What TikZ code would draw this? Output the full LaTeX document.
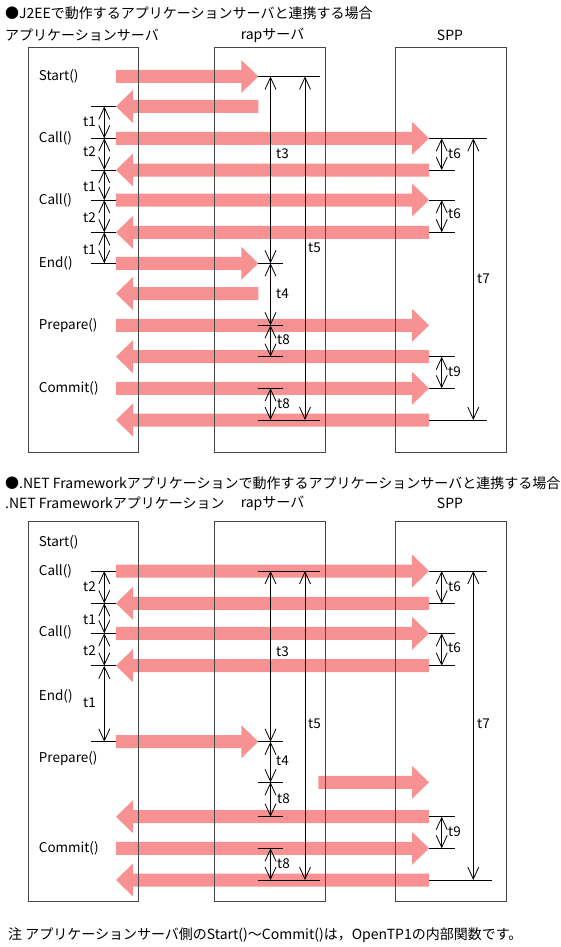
\documentclass[tikz,border=0pt]{standalone}
\usepackage{fontspec}
\setmainfont{Noto Sans CJK JP}
\usetikzlibrary{arrows.meta}
\definecolor{pk}{RGB}{248,145,145}
\definecolor{boxgray}{RGB}{70,70,70}
% right-pointing message: tail x, tip x, y
\newcommand\msgR[3]{\fill[msgfill] (#1,#3-6.5) -- (#2-17,#3-6.5) -- (#2-17,#3-16.5) -- (#2,#3) -- (#2-17,#3+16.5) -- (#2-17,#3+6.5) -- (#1,#3+6.5) -- cycle;}
% left-pointing message: tip x, tail x, y
\newcommand\msgL[3]{\fill[msgfill] (#2,#3-6.5) -- (#1+17,#3-6.5) -- (#1+17,#3-16.5) -- (#1,#3) -- (#1+17,#3+16.5) -- (#1+17,#3+6.5) -- (#2,#3+6.5) -- cycle;}
\begin{document}
\begin{tikzpicture}[x=1pt,y=-1pt,
  font=\fontsize{14}{16}\selectfont,
  box/.style={draw=boxgray, line width=1pt, fill=none, inner sep=0pt},
  dimline/.style={draw=black, line width=0.8pt, {Straight Barb[length=12pt,width=11pt]}-{Straight Barb[length=12pt,width=11pt]}},
  tick/.style={draw=black, line width=0.8pt},
  lbl/.style={inner sep=0pt, anchor=west, font=\fontsize{13.5}{16}\selectfont},
  tl/.style={inner sep=0pt, anchor=east, font=\fontsize{13.5}{16}\selectfont},
  tr/.style={inner sep=0pt, anchor=west, font=\fontsize{13.5}{16}\selectfont},
  msgfill/.style={fill=pk}]
\useasboundingbox[fill=white] (0,0) rectangle (560,947);

% columns
\coordinate (cLT) at (91,0);
\coordinate (cLA) at (116,0);
\coordinate (cLV) at (104.3,0);
\coordinate (cRA) at (258.3,0);
\coordinate (cR3) at (270.5,0);
\coordinate (cR5) at (305,0);
\coordinate (cRT) at (283.3,0);
\coordinate (cRL) at (320,0);
\coordinate (cSA) at (429,0);
\coordinate (cS6) at (441.7,0);
\coordinate (cST) at (455,0);
\coordinate (cS7) at (473.3,0);
\coordinate (cSL) at (486.7,0);
\coordinate (cSM) at (491.7,0);
% rows (top)
\coordinate (a1) at (0,76.5);
\coordinate (a2) at (0,106.5);
\coordinate (a3) at (0,138.3);
\coordinate (a4) at (0,170);
\coordinate (a5) at (0,200);
\coordinate (a6) at (0,232.3);
\coordinate (a7) at (0,263.3);
\coordinate (a8) at (0,293.5);
\coordinate (a9) at (0,325.3);
\coordinate (a10) at (0,356.7);
\coordinate (a11) at (0,388.3);
\coordinate (a12) at (0,420);
% rows (bottom)
\coordinate (b2) at (0,571);
\coordinate (b3) at (0,603.3);
\coordinate (b4) at (0,633.3);
\coordinate (b5) at (0,665.7);
\coordinate (b6) at (0,741.7);
\coordinate (b7) at (0,782.3);
\coordinate (b8) at (0,816.7);
\coordinate (b9) at (0,848.3);
\coordinate (b10) at (0,880);

% ===== top messages =====
\msgR{116}{258.3}{76.5}
\msgL{116}{258.3}{106.5}
\msgR{116}{429}{138.3}
\msgL{116}{429}{170}
\msgR{116}{429}{200}
\msgL{116}{429}{232.3}
\msgR{116}{258.3}{263.3}
\msgL{116}{258.3}{293.5}
\msgR{116}{429}{325.3}
\msgL{116}{429}{356.7}
\msgR{116}{429}{388.3}
\msgL{116}{429}{420}
% ===== bottom messages =====
\msgR{116}{429}{571}
\msgL{116}{429}{603.3}
\msgR{116}{429}{633.3}
\msgL{116}{429}{665.7}
\msgR{116}{258.3}{741.7}
\msgR{318.3}{429}{782.3}
\msgL{116}{429}{816.7}
\msgR{116}{429}{848.3}
\msgL{116}{429}{880}

% ===== boxes =====
\node[box, minimum width=110.7pt, minimum height=404pt] (appA) at (83.35,250) {};
\node[box, minimum width=111pt, minimum height=404pt] (rapA) at (269.5,250) {};
\node[box, minimum width=111pt, minimum height=404pt] (sppA) at (451.2,250) {};
\node[box, minimum width=110.7pt, minimum height=380pt] (appB) at (83.35,711) {};
\node[box, minimum width=111pt, minimum height=380pt] (rapB) at (269.5,711) {};
\node[box, minimum width=111pt, minimum height=380pt] (sppB) at (451.2,711) {};

% ===== headings =====
\node[inner sep=0pt, anchor=west] (h1) at (5,13.3) {●J2EEで動作するアプリケーションサーバと連携する場合};
\node[inner sep=0pt, anchor=west] (c1) at (5,35) {アプリケーションサーバ};
\node[inner sep=0pt] (c2) at (272.5,35) {rapサーバ};
\node[inner sep=0pt] (c3) at (450,35) {SPP};
\node[inner sep=0pt, anchor=west] (h2) at (5,483.3) {●.NET Frameworkアプリケーションで動作するアプリケーションサーバと連携する場合};
\node[inner sep=0pt, anchor=west] (d1) at (5,503.3) {.NET Frameworkアプリケーション};
\node[inner sep=0pt] (d2) at (272.5,503.3) {rapサーバ};
\node[inner sep=0pt] (d3) at (450,503.3) {SPP};
\node[inner sep=0pt, anchor=west] (note) at (8,935) {注 アプリケーションサーバ側のStart()～Commit()は，OpenTP1の内部関数です。};

% ===== function labels =====
\node[lbl] (fA1) at (38.7,76.5) {Start()};
\node[lbl] (fA2) at (38.7,138.3) {Call()};
\node[lbl] (fA3) at (38.7,200) {Call()};
\node[lbl] (fA4) at (38.7,263.3) {End()};
\node[lbl] (fA5) at (38.7,325.3) {Prepare()};
\node[lbl] (fA6) at (38.7,388.3) {Commit()};
\node[lbl] (fB1) at (38.7,542.7) {Start()};
\node[lbl] (fB2) at (38.7,571.7) {Call()};
\node[lbl] (fB3) at (38.7,632.7) {Call()};
\node[lbl] (fB4) at (38.7,696) {End()};
\node[lbl] (fB5) at (38.7,758.3) {Prepare()};
\node[lbl] (fB6) at (38.7,848.3) {Commit()};

% ===== top timing ticks =====
\foreach \r in {a2,a3,a4,a5,a6,a7} {\draw[tick] (cLT|-\r) -- (cLA|-\r);}
\foreach \r in {a1,a12} {\draw[tick] (cRA|-\r) -- (cRL|-\r);}
\foreach \r in {a7,a9,a10,a11} {\draw[tick] (cRA|-\r) -- (cRT|-\r);}
\foreach \r in {a3,a12} {\draw[tick] (cSA|-\r) -- (cSL|-\r);}
\foreach \r in {a4,a5,a6,a10,a11} {\draw[tick] (cSA|-\r) -- (cST|-\r);}
% top dimension lines
\draw[dimline] (cLV|-a2) -- (cLV|-a3);
\draw[dimline] (cLV|-a3) -- (cLV|-a4);
\draw[dimline] (cLV|-a4) -- (cLV|-a5);
\draw[dimline] (cLV|-a5) -- (cLV|-a6);
\draw[dimline] (cLV|-a6) -- (cLV|-a7);
\draw[dimline] (cR3|-a1) -- (cR3|-a7);
\draw[dimline] (cR5|-a1) -- (cR5|-a12);
\draw[dimline] (cR3|-a7) -- (cR3|-a9);
\draw[dimline] (cR3|-a9) -- (cR3|-a10);
\draw[dimline] (cR3|-a11) -- (cR3|-a12);
\draw[dimline] (cS6|-a3) -- (cS6|-a4);
\draw[dimline] (cS6|-a5) -- (cS6|-a6);
\draw[dimline] (cS6|-a10) -- (cS6|-a11);
\draw[dimline] (cS7|-a3) -- (cS7|-a12);
% top timing labels
\node[tl] (ta1) at (96,121.7) {t1};
\node[tl] (ta2) at (96,151.7) {t2};
\node[tl] (ta3) at (96,186.7) {t1};
\node[tl] (ta4) at (96,217.3) {t2};
\node[tl] (ta5) at (96,250) {t1};
\node[tr] (ta6) at (276,153.3) {t3};
\node[tr] (ta7) at (308,247.3) {t5};
\node[tr] (ta8) at (276,293.3) {t4};
\node[tr] (ta9) at (277,340) {t8};
\node[tr] (ta10) at (277,403.3) {t8};
\node[tr] (ta11) at (448,153.3) {t6};
\node[tr] (ta12) at (448,214) {t6};
\node[tr] (ta13) at (448,371.7) {t9};
\node[tr] (ta14) at (477,278.3) {t7};

% ===== bottom timing ticks =====
\foreach \r in {b2,b3,b4,b5,b6} {\draw[tick] (cLT|-\r) -- (cLA|-\r);}
\foreach \r in {b2,b10} {\draw[tick] (cRA|-\r) -- (cRL|-\r);}
\foreach \r in {b6,b7,b8,b9} {\draw[tick] (cRA|-\r) -- (cRT|-\r);}
\draw[tick] (cSA|-b2) -- (cSL|-b2);
\draw[tick] (cSA|-b10) -- (cSM|-b10);
\foreach \r in {b3,b4,b5,b8,b9} {\draw[tick] (cSA|-\r) -- (cST|-\r);}
% bottom dimension lines
\draw[dimline] (cLV|-b2) -- (cLV|-b3);
\draw[dimline] (cLV|-b3) -- (cLV|-b4);
\draw[dimline] (cLV|-b4) -- (cLV|-b5);
\draw[dimline] (cLV|-b5) -- (cLV|-b6);
\draw[dimline] (cR3|-b2) -- (cR3|-b6);
\draw[dimline] (cR5|-b2) -- (cR5|-b10);
\draw[dimline] (cR3|-b6) -- (cR3|-b7);
\draw[dimline] (cR3|-b7) -- (cR3|-b8);
\draw[dimline] (cR3|-b9) -- (cR3|-b10);
\draw[dimline] (cS6|-b2) -- (cS6|-b3);
\draw[dimline] (cS6|-b4) -- (cS6|-b5);
\draw[dimline] (cS6|-b8) -- (cS6|-b9);
\draw[dimline] (cS7|-b2) -- (cS7|-b10);
% bottom timing labels
\node[tl] (tb1) at (96,586.7) {t2};
\node[tl] (tb2) at (96,620) {t1};
\node[tl] (tb3) at (96,651) {t2};
\node[tl] (tb4) at (96,702.7) {t1};
\node[tr] (tb5) at (276,651.7) {t3};
\node[tr] (tb6) at (308,724) {t5};
\node[tr] (tb7) at (276,761) {t4};
\node[tr] (tb8) at (277,798.3) {t8};
\node[tr] (tb9) at (277,863.3) {t8};
\node[tr] (tb10) at (448,586.7) {t6};
\node[tr] (tb11) at (448,647.7) {t6};
\node[tr] (tb12) at (448,831.7) {t9};
\node[tr] (tb13) at (477,724) {t7};
\end{tikzpicture}
\end{document}
